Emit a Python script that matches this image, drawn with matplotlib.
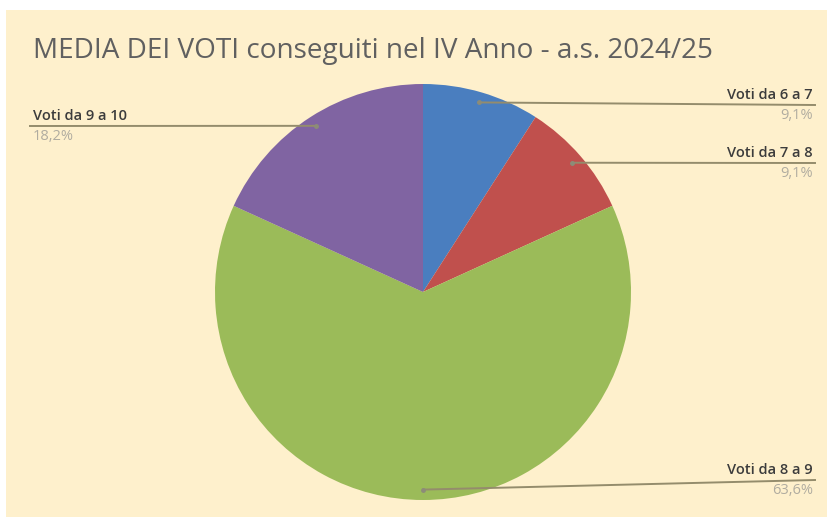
import numpy as np
import matplotlib.pyplot as plt
from matplotlib.patches import Rectangle

title = "MEDIA DEI VOTI conseguiti nel IV Anno - a.s. 2024/25"
categories = ["Voti da 6 a 7", "Voti da 7 a 8", "Voti da 8 a 9", "Voti da 9 a 10"]
values = [9.1, 9.1, 63.6, 18.2]
pct_labels = ["9,1%", "9,1%", "63,6%", "18,2%"]
colors = ["#4a7ebf", "#c0504d", "#9bbb59", "#8064a2"]

W, H = 828, 517
fig = plt.figure(figsize=(W / 100, H / 100), dpi=100)
fig.patch.set_facecolor("white")
ax = fig.add_axes([0, 0, 1, 1])
ax.set_xlim(0, W)
ax.set_ylim(0, H)
ax.set_aspect("equal")
ax.axis("off")

bg = "#fef0cc"
ax.add_patch(Rectangle((6, -5), W, H - 5, facecolor=bg, edgecolor="none",
                       zorder=0, clip_on=False))

fam = ["Open Sans", "DejaVu Sans"]
ax.text(33, H - 51, title, fontsize=20.1, color="#606060", va="center", ha="left",
        family=fam)

cx, cy, R = 423, H - 292, 208
wedges, _ = ax.pie(values, center=(cx, cy), radius=R, startangle=90,
                   counterclock=False, colors=colors,
                   wedgeprops=dict(linewidth=0))
ax.set_xlim(0, W)
ax.set_ylim(0, H)

# where each leader line ends (pixels from top) and on which side
label_lines = [105, 163, 480, 126]
sides = ["right", "right", "right", "left"]

for w, cat, pct, ly, side in zip(wedges, categories, pct_labels, label_lines, sides):
    mid = np.deg2rad((w.theta1 + w.theta2) / 2)
    px = cx + 0.95 * R * np.cos(mid)
    py = cy + 0.95 * R * np.sin(mid)
    ly = H - ly
    if side == "right":
        xe, ha, xt = 815, "right", 813
        ax.plot([px, xe], [py, ly], color="#948c6c", lw=1.4, zorder=3)
    else:
        xs, ha, xt = 30, "left", 33
        ax.plot([xs, px], [ly, py], color="#948c6c", lw=1.4, zorder=3)
    ax.text(xt, ly + 3, cat, ha=ha, va="bottom", fontsize=10.5,
            color="#3c3c3c", family=fam, fontweight="semibold")
    ax.text(xt, ly - 3, pct, ha=ha, va="top", fontsize=10.5,
            color="#b0aca0", family=fam)
    ax.plot(px, py, "o", ms=2.5, color="#8c8c78", zorder=4)

fig.savefig("out.png", dpi=100, facecolor=fig.get_facecolor())
